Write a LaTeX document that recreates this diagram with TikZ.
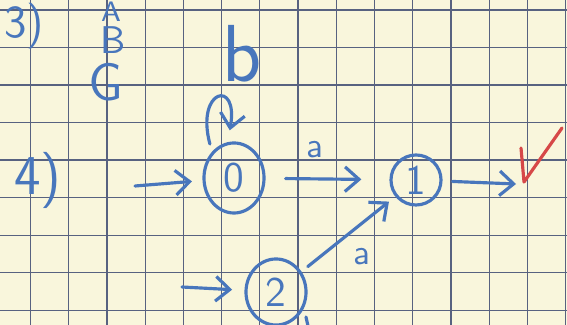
\documentclass[tikz,border=0pt]{standalone}
\usetikzlibrary{arrows.meta,shapes.geometric}
\definecolor{pluma}{RGB}{72,118,188}
\definecolor{papel}{RGB}{249,246,220}
\definecolor{cuadro}{RGB}{88,98,128}
\definecolor{rojo}{RGB}{214,72,72}
\begin{document}
\begin{tikzpicture}[x=0.01cm, y=-0.01cm,
    tinta/.style={draw=pluma, line width=0.9pt, line cap=round, line join=round},
    estado/.style={ellipse, tinta, inner sep=0pt, text=pluma, font=\sffamily\large},
    flecha/.style={tinta, -{Straight Barb[length=4pt,width=7pt]}},
    letra/.style={text=pluma, font=\sffamily, inner sep=1pt}]
  % hoja cuadriculada
  \useasboundingbox (0,0) rectangle (567,325);
  \fill[papel] (0,0) rectangle (567,325);
  \clip (0,0) rectangle (567,325);
  \draw[cuadro, line width=0.35pt, xstep=0.382cm, ystep=0.375cm, shift={(30.5,10)}]
    (-40,-15) grid (560,320);
  % apuntes de arriba
  \node[letra, inner sep=0pt, font=\sffamily\fontsize{13}{13}\selectfont] (n3) at (24,26) {3)};
  \node[letra, inner sep=0pt, font=\sffamily\fontsize{8}{8}\selectfont] (la) at (111,12) {A};
  \node[letra, inner sep=0pt, font=\sffamily\fontsize{11}{11}\selectfont] (lb) at (113,40) {B};
  \node[letra, font=\sffamily\fontsize{15}{15}\selectfont] (lg) at (106,82) {G};
  \node[letra, font=\sffamily\fontsize{16}{16}\selectfont] (n4) at (38,180) {4)};
  % automata
  \node[estado, minimum width=0.6cm, minimum height=0.7cm] (q0) at (234,178) {0};
  \node[estado, minimum width=0.5cm, minimum height=0.5cm] (q1) at (416,180) {1};
  \node[estado, minimum width=0.6cm, minimum height=0.66cm] (q2) at (276,292) {2};
  \coordinate (i0) at (135,186);
  \coordinate (i2) at (182,287);
  \coordinate (fin) at (516,184);
  \draw[flecha, shorten >=3pt] (i0) -- (q0);
  \draw[flecha, shorten >=3.5pt] (i2) -- (q2);
  \draw[flecha, shorten <=0.2cm, shorten >=0.28cm] (q0) --
    node[letra, above=0.16cm, pos=0.4] (ea) {a} (q1);
  \draw[flecha, shorten <=0.1cm] (q1) -- (fin);
  \draw[flecha, shorten <=0.08cm, shorten >=0.08cm] (q2) --
    node[letra, below right=0.05cm, pos=0.45] (eb) {a} (q1);
  \draw[flecha, shorten <=0.08cm, shorten >=0.12cm] (q0.130)
    to[out=105, in=80, min distance=0.65cm] (q0.100);
  \node[letra, font=\sffamily\fontsize{23}{23}\selectfont] (lz) at (242,54) {b};
  % visto bueno
  \draw[rojo, line width=0.9pt, line cap=round, line join=round]
    (521,148) .. controls (522,165) .. (524,182) -- (562,128);
  \draw[tinta] (306,317) -- (308,326);
\end{tikzpicture}
\end{document}
